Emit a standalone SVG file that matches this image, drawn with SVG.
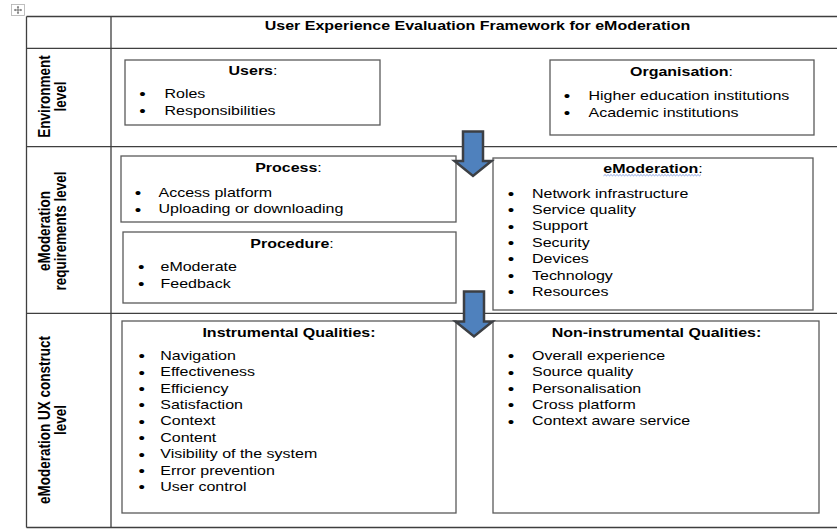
<svg xmlns="http://www.w3.org/2000/svg" width="837" height="530" viewBox="0 0 837 530">
<style>
.t{font-family:"Liberation Sans",Arial,sans-serif;font-size:13px;fill:#000}
.b{font-weight:bold}
.n{font-weight:normal}
.m{text-anchor:middle}
.bu{font-family:"Liberation Sans",Arial,sans-serif;font-size:15px;text-anchor:middle;fill:#000}
.lab{font-family:"Liberation Sans",Arial,sans-serif;font-size:13.5px;font-weight:bold;text-anchor:middle;fill:#000}
.grid{stroke:#3f3f3f;stroke-width:1.3;fill:none}
.box{stroke:#5a5a5a;stroke-width:1.3;fill:#fff}
.arrow{fill:#4f81bd;stroke:#3c3f44;stroke-width:2.5;stroke-linejoin:miter}
.squig{fill:none;stroke:#5b7fd8;stroke-width:0.7}
</style>
<rect width="837" height="530" fill="#fff"/>
<g id="move-handle">
<rect x="11.5" y="4.5" width="13" height="11" fill="#fff" stroke="#b0b0b0" stroke-width="0.8"/>
<path d="M14.5 10H21.5M18 6.5V13.5" stroke="#555" stroke-width="0.8" fill="none"/>
<path d="M14 10l1.5-1.2v2.4zM22 10l-1.5-1.2v2.4zM18 6l-1.2 1.5h2.4zM18 14l-1.2-1.5h2.4z" fill="#555"/>
</g>
<g id="table">
<path class="grid" d="M26.5 16.5H837M26.5 48.3H837M26.5 146.7H837M26.5 313.3H837M26.5 527.5H837M26.5 16.5V527.5M111 16.5V527.5"/>
<text class="t b m" transform="translate(477.5,29.5) scale(1.23,1)">User Experience Evaluation Framework for eModeration</text>
</g>
<g id="label-environment">
<text class="lab" transform="translate(50,96.5) rotate(-90) scale(1,1.25)">Environment</text>
<text class="lab" transform="translate(65.5,96.5) rotate(-90) scale(1,1.25)">level</text>
</g>
<g id="label-requirements">
<text class="lab" transform="translate(50,231) rotate(-90) scale(1,1.25)">eModeration</text>
<text class="lab" transform="translate(65.5,231) rotate(-90) scale(1,1.25)">requirements level</text>
</g>
<g id="label-construct">
<text class="lab" transform="translate(50,420) rotate(-90) scale(1,1.25)">eModeration UX construct</text>
<text class="lab" transform="translate(65.5,420) rotate(-90) scale(1,1.25)">level</text>
</g>
<g id="users">
<rect class="box" x="125" y="60" width="255" height="65"/>
<text class="t b m" transform="translate(253,75) scale(1.23,1)">Users<tspan class="n">:</tspan></text>
<text class="bu" transform="translate(142.5,99.3) scale(1.23,1)">•</text>
<text class="t" transform="translate(164.5,98) scale(1.23,1)">Roles</text>
<text class="bu" transform="translate(142.5,116) scale(1.23,1)">•</text>
<text class="t" transform="translate(164.5,114.7) scale(1.23,1)">Responsibilities</text>
</g>
<g id="organisation">
<rect class="box" x="550" y="60" width="264" height="75"/>
<text class="t b m" transform="translate(681.5,76.3) scale(1.23,1)">Organisation<tspan class="n">:</tspan></text>
<text class="bu" transform="translate(567,101.3) scale(1.23,1)">•</text>
<text class="t" transform="translate(588.5,100) scale(1.23,1)">Higher education institutions</text>
<text class="bu" transform="translate(567,118) scale(1.23,1)">•</text>
<text class="t" transform="translate(588.5,116.7) scale(1.23,1)">Academic institutions</text>
</g>
<g id="process">
<rect class="box" x="121" y="156" width="335" height="66"/>
<text class="t b m" transform="translate(288.5,172.3) scale(1.23,1)">Process<tspan class="n">:</tspan></text>
<text class="bu" transform="translate(138,198) scale(1.23,1)">•</text>
<text class="t" transform="translate(158.5,196.7) scale(1.23,1)">Access platform</text>
<text class="bu" transform="translate(138,214.6) scale(1.23,1)">•</text>
<text class="t" transform="translate(158.5,213.3) scale(1.23,1)">Uploading or downloading</text>
</g>
<g id="procedure">
<rect class="box" x="123" y="232" width="333" height="71"/>
<text class="t b m" transform="translate(292,248.3) scale(1.23,1)">Procedure<tspan class="n">:</tspan></text>
<text class="bu" transform="translate(141.2,272.3) scale(1.23,1)">•</text>
<text class="t" transform="translate(160.5,271) scale(1.23,1)">eModerate</text>
<text class="bu" transform="translate(141.2,289.3) scale(1.23,1)">•</text>
<text class="t" transform="translate(160.5,288) scale(1.23,1)">Feedback</text>
</g>
<g id="emoderation">
<rect class="box" x="493" y="158" width="320" height="152"/>
<text class="t b m" transform="translate(653,173.3) scale(1.23,1)">eModeration<tspan class="n">:</tspan></text>
<path class="squig" d="M603.5 175.8l1.5 -1.2l1.5 1.2l1.5 -1.2l1.5 1.2l1.5 -1.2l1.5 1.2l1.5 -1.2l1.5 1.2l1.5 -1.2l1.5 1.2l1.5 -1.2l1.5 1.2l1.5 -1.2l1.5 1.2l1.5 -1.2l1.5 1.2l1.5 -1.2l1.5 1.2l1.5 -1.2l1.5 1.2l1.5 -1.2l1.5 1.2l1.5 -1.2l1.5 1.2l1.5 -1.2l1.5 1.2l1.5 -1.2l1.5 1.2l1.5 -1.2l1.5 1.2l1.5 -1.2l1.5 1.2l1.5 -1.2l1.5 1.2l1.5 -1.2l1.5 1.2l1.5 -1.2l1.5 1.2l1.5 -1.2l1.5 1.2l1.5 -1.2l1.5 1.2l1.5 -1.2l1.5 1.2l1.5 -1.2l1.5 1.2l1.5 -1.2l1.5 1.2l1.5 -1.2l1.5 1.2l1.5 -1.2l1.5 1.2l1.5 -1.2l1.5 1.2l1.5 -1.2l1.5 1.2l1.5 -1.2l1.5 1.2l1.5 -1.2l1.5 1.2l1.5 -1.2l1.5 1.2l1.5 -1.2l1.5 1.2l1.5 -1.2"/>
<text class="bu" transform="translate(511,198.8) scale(1.23,1)">•</text>
<text class="t" transform="translate(532,197.5) scale(1.23,1)">Network infrastructure</text>
<text class="bu" transform="translate(511,215.2) scale(1.23,1)">•</text>
<text class="t" transform="translate(532,213.9) scale(1.23,1)">Service quality</text>
<text class="bu" transform="translate(511,231.6) scale(1.23,1)">•</text>
<text class="t" transform="translate(532,230.3) scale(1.23,1)">Support</text>
<text class="bu" transform="translate(511,248) scale(1.23,1)">•</text>
<text class="t" transform="translate(532,246.7) scale(1.23,1)">Security</text>
<text class="bu" transform="translate(511,264.4) scale(1.23,1)">•</text>
<text class="t" transform="translate(532,263.1) scale(1.23,1)">Devices</text>
<text class="bu" transform="translate(511,280.8) scale(1.23,1)">•</text>
<text class="t" transform="translate(532,279.5) scale(1.23,1)">Technology</text>
<text class="bu" transform="translate(511,297.2) scale(1.23,1)">•</text>
<text class="t" transform="translate(532,295.9) scale(1.23,1)">Resources</text>
</g>
<g id="instrumental">
<rect class="box" x="122" y="321" width="334" height="192"/>
<text class="t b m" transform="translate(289,336.7) scale(1.23,1)">Instrumental Qualities:</text>
<text class="bu" transform="translate(141.7,361.1) scale(1.23,1)">•</text>
<text class="t" transform="translate(160.3,359.8) scale(1.23,1)">Navigation</text>
<text class="bu" transform="translate(141.7,377.5) scale(1.23,1)">•</text>
<text class="t" transform="translate(160.3,376.2) scale(1.23,1)">Effectiveness</text>
<text class="bu" transform="translate(141.7,393.9) scale(1.23,1)">•</text>
<text class="t" transform="translate(160.3,392.6) scale(1.23,1)">Efficiency</text>
<text class="bu" transform="translate(141.7,410.3) scale(1.23,1)">•</text>
<text class="t" transform="translate(160.3,409) scale(1.23,1)">Satisfaction</text>
<text class="bu" transform="translate(141.7,426.7) scale(1.23,1)">•</text>
<text class="t" transform="translate(160.3,425.4) scale(1.23,1)">Context</text>
<text class="bu" transform="translate(141.7,443.1) scale(1.23,1)">•</text>
<text class="t" transform="translate(160.3,441.8) scale(1.23,1)">Content</text>
<text class="bu" transform="translate(141.7,459.5) scale(1.23,1)">•</text>
<text class="t" transform="translate(160.3,458.2) scale(1.23,1)">Visibility of the system</text>
<text class="bu" transform="translate(141.7,475.9) scale(1.23,1)">•</text>
<text class="t" transform="translate(160.3,474.6) scale(1.23,1)">Error prevention</text>
<text class="bu" transform="translate(141.7,492.3) scale(1.23,1)">•</text>
<text class="t" transform="translate(160.3,491) scale(1.23,1)">User control</text>
</g>
<g id="non-instrumental">
<rect class="box" x="493" y="321" width="326" height="192"/>
<text class="t b m" transform="translate(656.5,336.7) scale(1.23,1)">Non-instrumental Qualities:</text>
<text class="bu" transform="translate(511,361.1) scale(1.23,1)">•</text>
<text class="t" transform="translate(532,359.8) scale(1.23,1)">Overall experience</text>
<text class="bu" transform="translate(511,377.5) scale(1.23,1)">•</text>
<text class="t" transform="translate(532,376.2) scale(1.23,1)">Source quality</text>
<text class="bu" transform="translate(511,393.9) scale(1.23,1)">•</text>
<text class="t" transform="translate(532,392.6) scale(1.23,1)">Personalisation</text>
<text class="bu" transform="translate(511,410.3) scale(1.23,1)">•</text>
<text class="t" transform="translate(532,409) scale(1.23,1)">Cross platform</text>
<text class="bu" transform="translate(511,426.7) scale(1.23,1)">•</text>
<text class="t" transform="translate(532,425.4) scale(1.23,1)">Context aware service</text>
</g>
<g id="connectors">
<polygon class="arrow" points="463,131.5 483,131.5 483,161 491.5,161 473,176 454.5,161 463,161"/>
<polygon class="arrow" points="464,291.5 484,291.5 484,321.5 492.5,321.5 474,336.5 455.5,321.5 464,321.5"/>
</g>
</svg>
